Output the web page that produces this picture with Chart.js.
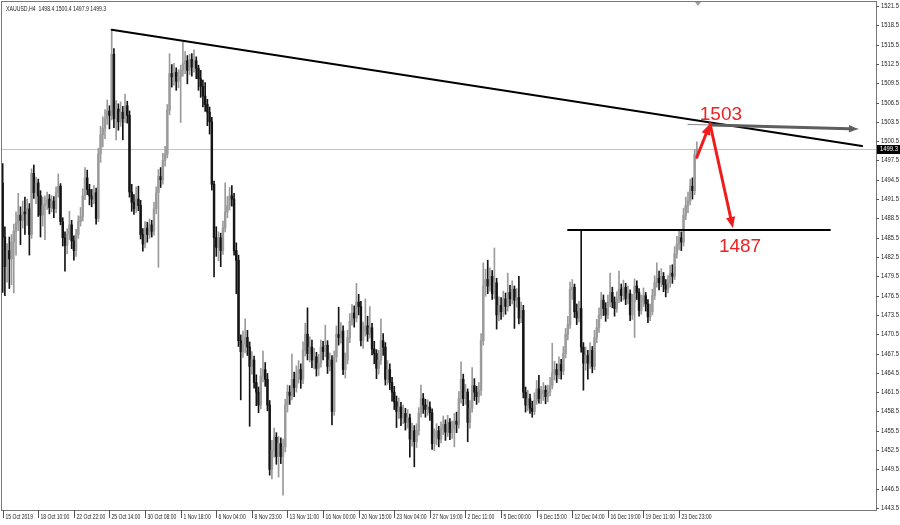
<!DOCTYPE html>
<html>
<head>
<meta charset="utf-8">
<title>XAUUSD H4</title>
<script src="https://cdn.jsdelivr.net/npm/chart.js@4.4.1/dist/chart.umd.min.js"></script>
<style>
  html, body { margin: 0; padding: 0; background: #fff; }
  #wrap { width: 900px; height: 525px; }
</style>
</head>
<body>
<div id="wrap"><canvas id="chart" width="900" height="525"></canvas></div>
<script>
const symbolTitle = 'XAUUSD,H4  1498.4 1500.4 1497.9 1499.3';

// H4 candles, one per bar
const opens = [
  1494.0,1485.6,1481.0,1483.5,1482.2,1484.8,1486.5,1487.8,1489.0,1488.2,
  1489.5,1489.2,1490.0,1486.0,1495.5,1492.5,1494.0,1492.0,1489.0,1490.5,
  1490.8,1491.5,1490.2,1491.2,1490.0,1492.5,1493.5,1488.0,1485.5,1484.3,
  1486.0,1487.5,1485.0,1483.5,1486.0,1488.0,1488.8,1492.0,1494.8,1493.0,
  1492.0,1491.5,1492.5,1488.5,1498.5,1501.5,1502.5,1504.0,1505.2,1504.5,
  1514.0,1504.0,1505.5,1503.5,1505.0,1504.0,1506.0,1504.5,1492.6,1491.0,
  1490.0,1491.5,1490.5,1486.0,1484.5,1487.0,1486.0,1487.5,1486.5,1490.0,
  1492.5,1495.0,1494.5,1497.5,1498.5,1505.3,1511.0,1510.5,1511.2,1509.8,
  1510.5,1511.5,1512.5,1513.0,1511.5,1513.2,1512.0,1513.0,1511.8,1510.2,
  1509.0,1507.5,1506.2,1505.0,1503.5,1493.8,1485.5,1484.0,1485.5,1483.5,
  1487.0,1489.5,1490.5,1492.0,1491.5,1483.5,1482.0,1469.5,1467.8,1469.0,
  1470.0,1468.5,1465.5,1466.5,1463.0,1461.5,1459.5,1464.0,1465.0,1463.5,
  1459.5,1449.5,1452.5,1454.5,1451.5,1453.5,1451.5,1453.0,1459.5,1461.5,
  1461.0,1463.5,1462.2,1464.5,1465.0,1463.5,1468.0,1470.5,1467.5,1468.5,
  1466.5,1467.0,1465.2,1466.0,1468.5,1467.8,1468.8,1465.5,1466.5,1458.5,
  1467.0,1470.5,1470.0,1471.0,1465.0,1466.5,1470.0,1472.5,1473.8,1473.0,
  1475.5,1474.8,1469.5,1471.0,1471.8,1470.5,1471.5,1468.2,1467.5,1465.2,
  1466.5,1469.5,1468.5,1463.5,1465.0,1463.0,1461.5,1460.0,1458.5,1459.2,
  1457.5,1458.2,1456.8,1457.5,1454.2,1455.5,1453.8,1455.5,1458.2,1460.5,
  1459.5,1458.8,1459.2,1458.3,1453.5,1454.5,1455.5,1454.2,1455.8,1456.5,
  1455.3,1456.8,1455.2,1455.8,1457.0,1456.5,1460.5,1463.5,1460.5,1461.5,
  1456.8,1459.0,1462.5,1461.5,1460.8,1461.8,1469.5,1478.0,1479.0,1478.0,
  1479.5,1476.8,1478.5,1473.5,1475.0,1474.0,1476.0,1474.8,1477.0,1476.0,
  1477.5,1475.8,1476.2,1473.0,1474.2,1461.5,1459.5,1460.5,1459.0,1458.5,
  1460.2,1462.0,1460.5,1461.3,1461.8,1460.8,1461.5,1462.5,1464.5,1465.0,
  1464.2,1465.8,1464.8,1467.5,1470.5,1472.0,1477.5,1477.8,1474.0,1473.0,
  1474.5,1468.5,1466.0,1467.2,1466.0,1468.0,1465.5,1470.0,1471.5,1473.5,
  1475.8,1474.5,1473.5,1475.5,1477.0,1475.5,1474.5,1476.0,1477.5,1476.5,
  1477.8,1476.0,1476.8,1473.5,1475.5,1478.0,1477.0,1474.2,1475.5,1476.5,
  1475.2,1473.2,1474.0,1476.5,1478.5,1479.2,1478.5,1479.5,1478.2,1477.5,
  1478.5,1480.0,1479.5,1483.0,1484.5,1485.5,1484.8,1489.0,1490.5,1491.2,
  1493.5,1492.8,1498.4
];
const highs = [
  1497.0,1487.2,1484.6,1485.6,1486.0,1487.6,1489.5,1492.4,1490.3,1491.2,
  1491.8,1491.5,1490.8,1496.2,1496.8,1494.9,1494.6,1492.8,1491.8,1492.0,
  1492.6,1492.2,1492.0,1491.9,1493.4,1495.4,1493.9,1488.6,1486.4,1486.9,
  1489.6,1488.2,1485.8,1486.8,1488.9,1490.2,1493.1,1496.4,1496.0,1493.8,
  1493.0,1493.6,1493.2,1499.4,1502.8,1504.3,1505.4,1506.9,1506.0,1517.8,
  1514.9,1506.8,1506.3,1506.6,1505.9,1507.8,1506.7,1505.2,1493.8,1492.2,
  1493.4,1493.5,1491.3,1486.9,1488.0,1487.9,1488.4,1488.2,1491.0,1493.4,
  1496.1,1496.4,1498.6,1499.7,1506.2,1514.1,1512.4,1512.6,1511.9,1511.6,
  1512.3,1515.9,1514.4,1513.8,1514.0,1514.1,1514.7,1513.6,1512.3,1511.5,
  1510.0,1509.6,1507.0,1505.8,1504.2,1494.3,1487.2,1486.4,1486.2,1488.1,
  1494.0,1491.9,1493.3,1493.6,1492.4,1484.7,1482.8,1470.4,1471.0,1472.9,
  1471.1,1469.3,1467.8,1467.1,1464.2,1462.3,1465.2,1467.9,1466.1,1464.4,
  1460.2,1454.0,1455.9,1455.2,1454.6,1454.4,1454.2,1460.4,1462.6,1462.5,
  1467.4,1464.6,1465.6,1466.4,1465.9,1469.3,1472.2,1474.6,1470.1,1469.6,
  1468.3,1467.7,1467.4,1469.6,1469.4,1471.9,1469.5,1467.6,1467.2,1467.9,
  1471.8,1474.7,1472.3,1471.8,1467.6,1471.1,1473.7,1475.1,1474.9,1478.4,
  1476.7,1475.6,1472.4,1476.0,1473.3,1474.8,1472.2,1469.4,1468.1,1468.0,
  1472.9,1470.6,1469.2,1466.4,1465.9,1463.8,1462.4,1460.9,1460.6,1459.9,
  1459.5,1459.0,1458.8,1458.1,1456.7,1456.3,1456.6,1459.1,1462.6,1461.3,
  1460.4,1460.3,1460.0,1458.9,1455.8,1456.6,1456.2,1456.9,1457.8,1457.2,
  1457.9,1457.4,1457.0,1458.2,1458.4,1461.6,1466.2,1464.3,1462.7,1462.0,
  1460.2,1465.3,1463.6,1462.4,1463.0,1470.6,1481.6,1480.6,1482.0,1480.8,
  1480.4,1483.9,1479.2,1476.3,1476.2,1477.2,1476.9,1480.0,1478.1,1478.8,
  1478.0,1477.6,1479.5,1475.5,1475.0,1462.3,1461.8,1461.2,1460.1,1461.4,
  1463.3,1464.1,1462.4,1463.0,1462.5,1462.6,1463.8,1469.1,1466.3,1465.9,
  1467.0,1466.6,1468.6,1471.4,1473.3,1478.6,1479.0,1478.3,1475.2,1475.6,
  1486.7,1469.2,1468.5,1468.0,1469.2,1468.6,1471.1,1472.8,1474.6,1477.0,
  1476.6,1475.4,1476.6,1480.0,1477.8,1476.3,1477.1,1480.3,1478.3,1478.9,
  1478.4,1478.0,1477.4,1476.7,1479.1,1478.8,1477.6,1476.6,1477.7,1477.0,
  1475.9,1475.2,1477.5,1479.6,1481.6,1480.3,1480.7,1480.1,1479.0,1479.6,
  1481.2,1481.3,1484.1,1485.7,1486.8,1486.4,1490.1,1491.8,1492.6,1494.6,
  1494.8,1499.2,1500.4
];
const lows = [
  1477.0,1476.5,1478.6,1477.6,1478.2,1476.9,1482.8,1486.6,1484.4,1487.0,
  1486.0,1487.4,1482.8,1485.4,1491.6,1490.8,1488.8,1485.6,1487.3,1485.2,
  1489.9,1489.2,1489.5,1488.6,1489.4,1491.8,1487.5,1484.2,1480.3,1483.0,
  1485.2,1483.8,1482.0,1482.6,1485.4,1487.3,1488.1,1491.4,1492.2,1490.6,
  1490.3,1490.8,1487.6,1488.0,1497.2,1499.6,1500.9,1503.1,1502.4,1503.8,
  1502.6,1500.7,1502.2,1502.8,1500.7,1503.4,1503.3,1491.8,1489.6,1489.1,
  1489.4,1489.7,1485.3,1483.4,1483.9,1484.8,1485.4,1485.6,1485.9,1489.2,
  1480.9,1493.3,1493.8,1496.6,1497.9,1504.6,1508.9,1509.2,1508.4,1508.8,
  1503.4,1510.6,1511.0,1509.4,1510.8,1510.6,1511.2,1510.2,1508.4,1507.3,
  1505.8,1505.1,1502.9,1501.6,1492.9,1479.4,1482.6,1481.9,1481.0,1482.9,
  1486.4,1488.6,1489.8,1490.4,1482.8,1476.8,1468.6,1460.3,1466.9,1467.6,
  1467.2,1456.2,1464.3,1462.1,1459.4,1458.3,1458.9,1463.1,1462.4,1458.6,
  1448.6,1448.0,1451.4,1450.3,1448.3,1450.4,1445.5,1452.2,1458.4,1459.6,
  1460.3,1460.8,1461.5,1462.9,1462.1,1462.8,1467.1,1466.5,1466.2,1465.3,
  1465.1,1464.0,1464.1,1465.4,1466.5,1467.0,1464.4,1464.8,1456.4,1457.9,
  1466.2,1468.8,1469.1,1464.2,1463.7,1465.9,1469.2,1471.9,1471.6,1472.4,
  1473.5,1468.7,1468.3,1470.2,1469.4,1469.9,1467.3,1465.9,1463.6,1464.3,
  1465.8,1467.2,1462.6,1462.7,1461.9,1460.1,1458.8,1456.0,1457.4,1456.3,
  1456.6,1455.6,1455.9,1451.4,1453.1,1449.9,1452.9,1454.8,1457.6,1458.2,
  1457.6,1457.9,1457.1,1452.6,1452.4,1453.3,1453.0,1453.6,1454.9,1454.0,
  1454.6,1454.1,1454.3,1453.0,1455.2,1455.9,1459.8,1459.4,1459.6,1453.8,
  1455.9,1458.4,1460.2,1459.6,1459.9,1461.0,1468.8,1476.4,1476.8,1477.2,
  1475.9,1476.0,1471.3,1472.6,1472.8,1473.2,1473.6,1474.1,1474.9,1475.2,
  1471.4,1474.7,1472.1,1472.3,1460.6,1458.4,1458.6,1458.2,1457.6,1458.0,
  1459.6,1459.8,1459.7,1460.2,1459.7,1460.0,1460.9,1462.0,1463.4,1463.0,
  1463.6,1463.5,1464.2,1466.8,1469.6,1471.4,1475.9,1473.1,1472.0,1472.4,
  1467.7,1461.8,1464.9,1463.5,1465.2,1464.5,1465.0,1469.2,1470.8,1472.9,
  1473.4,1472.5,1472.9,1474.8,1474.6,1473.3,1473.9,1475.4,1475.6,1475.8,
  1475.1,1475.2,1472.6,1472.8,1470.0,1475.9,1473.3,1473.6,1474.8,1474.1,
  1472.3,1472.6,1473.5,1475.9,1477.8,1477.4,1477.9,1477.1,1476.3,1476.9,
  1477.8,1478.4,1479.0,1482.3,1483.6,1483.5,1484.2,1488.3,1489.4,1490.6,
  1491.5,1492.2,1497.9
];
const closes = [
  1485.6,1481.0,1483.5,1482.2,1484.8,1486.5,1487.8,1489.0,1488.2,1489.5,
  1489.2,1490.0,1486.0,1495.5,1492.5,1494.0,1492.0,1489.0,1490.5,1490.8,
  1491.5,1490.2,1491.2,1490.0,1492.5,1493.5,1488.0,1485.5,1484.3,1486.0,
  1487.5,1485.0,1483.5,1486.0,1488.0,1488.8,1492.0,1494.8,1493.0,1492.0,
  1491.5,1492.5,1488.5,1498.5,1501.5,1502.5,1504.0,1505.2,1504.5,1514.0,
  1504.0,1505.5,1503.5,1505.0,1504.0,1506.0,1504.5,1492.6,1491.0,1490.0,
  1491.5,1490.5,1486.0,1484.5,1487.0,1486.0,1487.5,1486.5,1490.0,1492.5,
  1495.0,1494.5,1497.5,1498.5,1505.3,1511.0,1510.5,1511.2,1509.8,1510.5,
  1511.5,1512.5,1513.0,1511.5,1513.2,1512.0,1513.0,1511.8,1510.2,1509.0,
  1507.5,1506.2,1505.0,1503.5,1493.8,1485.5,1484.0,1485.5,1483.5,1487.0,
  1489.5,1490.5,1492.0,1491.5,1483.5,1482.0,1469.5,1467.8,1469.0,1470.0,
  1468.5,1465.5,1466.5,1463.0,1461.5,1459.5,1464.0,1465.0,1463.5,1459.5,
  1449.5,1452.5,1454.5,1451.5,1453.5,1451.5,1453.0,1459.5,1461.5,1461.0,
  1463.5,1462.2,1464.5,1465.0,1463.5,1468.0,1470.5,1467.5,1468.5,1466.5,
  1467.0,1465.2,1466.0,1468.5,1467.8,1468.8,1465.5,1466.5,1458.5,1467.0,
  1470.5,1470.0,1471.0,1465.0,1466.5,1470.0,1472.5,1473.8,1473.0,1475.5,
  1474.8,1469.5,1471.0,1471.8,1470.5,1471.5,1468.2,1467.5,1465.2,1466.5,
  1469.5,1468.5,1463.5,1465.0,1463.0,1461.5,1460.0,1458.5,1459.2,1457.5,
  1458.2,1456.8,1457.5,1454.2,1455.5,1453.8,1455.5,1458.2,1460.5,1459.5,
  1458.8,1459.2,1458.3,1453.5,1454.5,1455.5,1454.2,1455.8,1456.5,1455.3,
  1456.8,1455.2,1455.8,1457.0,1456.5,1460.5,1463.5,1460.5,1461.5,1456.8,
  1459.0,1462.5,1461.5,1460.8,1461.8,1469.5,1478.0,1479.0,1478.0,1479.5,
  1476.8,1478.5,1473.5,1475.0,1474.0,1476.0,1474.8,1477.0,1476.0,1477.5,
  1475.8,1476.2,1473.0,1474.2,1461.5,1459.5,1460.5,1459.0,1458.5,1460.2,
  1462.0,1460.5,1461.3,1461.8,1460.8,1461.5,1462.5,1464.5,1465.0,1464.2,
  1465.8,1464.8,1467.5,1470.5,1472.0,1477.5,1477.8,1474.0,1473.0,1474.5,
  1468.5,1466.0,1467.2,1466.0,1468.0,1465.5,1470.0,1471.5,1473.5,1475.8,
  1474.5,1473.5,1475.5,1477.0,1475.5,1474.5,1476.0,1477.5,1476.5,1477.8,
  1476.0,1476.8,1473.5,1475.5,1478.0,1477.0,1474.2,1475.5,1476.5,1475.2,
  1473.2,1474.0,1476.5,1478.5,1479.2,1478.5,1479.5,1478.2,1477.5,1478.5,
  1480.0,1479.5,1483.0,1484.5,1485.5,1484.8,1489.0,1490.5,1491.2,1493.5,
  1492.8,1498.4,1499.3
];

// time axis: bar index of each label and its text
const labelBars = [0, 16, 32, 48, 64, 80, 96, 112, 128, 144, 160, 176, 192, 208, 224, 240, 256, 272, 288, 304];
const dateLabels = [
  '15 Oct 2019', '18 Oct 10:00', '22 Oct 22:00', '25 Oct 14:00', '30 Oct 08:00',
  '1 Nov 18:00', '6 Nov 04:00', '8 Nov 23:00', '13 Nov 11:00', '16 Nov 00:00',
  '20 Nov 15:00', '23 Nov 04:00', '27 Nov 19:00', '2 Dec 11:00', '5 Dec 00:00',
  '9 Dec 15:00', '12 Dec 04:00', '16 Dec 19:00', '19 Dec 11:00', '23 Dec 23:00'
];
const priceTicks = [
  1443.5, 1446.5, 1449.5, 1452.5, 1455.5, 1458.5, 1461.5, 1464.5, 1467.5,
  1470.5, 1473.5, 1476.5, 1479.5, 1482.5, 1485.5, 1488.5, 1491.5, 1494.5,
  1497.5, 1500.5, 1503.5, 1506.5, 1509.5, 1512.5, 1515.5, 1518.5, 1521.5
];

// hand-drawn objects on the chart, in bar index / price
const trendLine = { from: [49, 1517.8], to: [386.2, 1499.75] };
const supportLine = { from: [254.1, 1486.7], to: [371.8, 1486.7] };
const targetArrow = { from: [308.0, 1503.1], to: [384.4, 1502.4] };
const upArrow = { from: [312.0, 1498.0], to: [317.9, 1503.2] };
const downArrow = { from: [317.9, 1503.2], to: [328.2, 1487.0] };
const noteLabels = [
  { text: '1503', at: [322.8, 1503.8] },
  { text: '1487', at: [331.4, 1483.3] }
];

const lastPrice = closes[closes.length - 1];
const bullColor = '#9b9b9b';
const bearColor = '#151515';
const candleColors = closes.map((c, i) => c >= opens[i] ? bullColor : bearColor);

const wickData = highs.map((h, i) => ({ x: i, y: [lows[i], h] }));
const bodyData = closes.map((c, i) => ({ x: i, y: [Math.min(opens[i], c), Math.max(opens[i], c)] }));

const smallFont = '7px "Liberation Sans", Arial, sans-serif';

// terminal text is narrow, so squeeze it sideways
function narrowText(ctx, text, x, y, squeeze) {
    ctx.save();
    ctx.translate(x, y);
    ctx.scale(squeeze, 1);
    ctx.fillText(text, 0, 0);
    ctx.restore();
}

function drawArrow(ctx, x1, y1, x2, y2, color, width, head) {
    const ang = Math.atan2(y2 - y1, x2 - x1);
    const bx = x2 - head * Math.cos(ang);
    const by = y2 - head * Math.sin(ang);
    const hw = head * 0.42;
    ctx.strokeStyle = color;
    ctx.fillStyle = color;
    ctx.lineWidth = width;
    ctx.beginPath();
    ctx.moveTo(x1, y1);
    ctx.lineTo(bx, by);
    ctx.stroke();
    ctx.beginPath();
    ctx.moveTo(x2, y2);
    ctx.lineTo(bx + hw * Math.sin(ang), by - hw * Math.cos(ang));
    ctx.lineTo(bx - hw * Math.sin(ang), by + hw * Math.cos(ang));
    ctx.closePath();
    ctx.fill();
}

const overlay = {
    id: 'overlay',
    beforeDatasetsDraw(chart) {
        const { ctx, chartArea: a, scales: { y } } = chart;
        const py = Math.round(y.getPixelForValue(lastPrice)) + 0.5;
        ctx.save();
        ctx.strokeStyle = '#c6c6c6';
        ctx.lineWidth = 1;
        ctx.beginPath();
        ctx.moveTo(a.left, py);
        ctx.lineTo(a.right, py);
        ctx.stroke();
        ctx.restore();
    },
    afterDatasetsDraw(chart) {
        const { ctx, scales: { x, y } } = chart;
        const px = p => [x.getPixelForValue(p[0]), y.getPixelForValue(p[1])];
        ctx.save();
        ctx.lineCap = 'round';

        // trend line and support line
        ctx.strokeStyle = '#000';
        ctx.lineWidth = 2;
        [trendLine, supportLine].forEach(l => {
            const [x1, y1] = px(l.from);
            const [x2, y2] = px(l.to);
            ctx.beginPath();
            ctx.moveTo(x1, y1);
            ctx.lineTo(x2, y2);
            ctx.stroke();
        });

        // grey target arrow
        const [gx1, gy1] = px(targetArrow.from);
        const [gx2, gy2] = px(targetArrow.to);
        ctx.strokeStyle = '#8a8a8a';
        ctx.lineWidth = 1;
        ctx.beginPath();
        ctx.moveTo(gx1, gy1);
        ctx.lineTo(gx2, gy2);
        ctx.stroke();
        const t = 0.14;
        drawArrow(ctx, gx1 + (gx2 - gx1) * t, gy1 + (gy2 - gy1) * t, gx2, gy2, '#5e5e5e', 3, 9);

        // red path arrows
        [upArrow, downArrow].forEach(a => {
            const [x1, y1] = px(a.from);
            const [x2, y2] = px(a.to);
            drawArrow(ctx, x1, y1, x2, y2, '#f01c1c', 3, 11);
        });

        ctx.fillStyle = '#ee2222';
        ctx.font = '19px "Liberation Sans", Arial, sans-serif';
        ctx.textAlign = 'center';
        ctx.textBaseline = 'alphabetic';
        noteLabels.forEach(n => {
            const [tx, ty] = px(n.at);
            ctx.fillText(n.text, tx, ty);
        });
        ctx.restore();
    },
    afterDraw(chart) {
        const { ctx, chartArea: a, scales: { x, y } } = chart;
        ctx.save();
        // frame
        ctx.strokeStyle = '#787878';
        ctx.lineWidth = 1;
        ctx.strokeRect(a.left - 0.5, a.top - 0.5, a.right - a.left + 1, a.bottom - a.top + 1);

        // time labels with their tick marks
        ctx.font = smallFont;
        ctx.fillStyle = '#1e1e1e';
        ctx.strokeStyle = '#555';
        ctx.textAlign = 'left';
        ctx.textBaseline = 'alphabetic';
        labelBars.forEach((b, k) => {
            const tx = Math.round(x.getPixelForValue(b)) + 0.5;
            ctx.beginPath();
            ctx.moveTo(tx, a.bottom);
            ctx.lineTo(tx, a.bottom + 8);
            ctx.stroke();
            narrowText(ctx, dateLabels[k], tx + 2, a.bottom + 9, 0.72);
        });

        // price labels with their tick marks
        ctx.textBaseline = 'middle';
        priceTicks.forEach(v => {
            const ty = Math.round(y.getPixelForValue(v)) + 0.5;
            ctx.beginPath();
            ctx.moveTo(a.right, ty);
            ctx.lineTo(a.right + 3, ty);
            ctx.stroke();
            narrowText(ctx, v.toFixed(1), a.right + 5, ty, 0.84);
        });

        // shift marker
        const sx = x.getPixelForValue(312.5);
        ctx.fillStyle = '#a0a0a0';
        ctx.beginPath();
        ctx.moveTo(sx - 3, a.top);
        ctx.lineTo(sx + 3, a.top);
        ctx.lineTo(sx, a.top + 4);
        ctx.closePath();
        ctx.fill();

        // last price box
        const py = Math.round(y.getPixelForValue(lastPrice));
        ctx.fillStyle = '#000';
        ctx.fillRect(a.right + 1, py - 4, chart.width - a.right - 1, 9);
        ctx.fillStyle = '#fff';
        narrowText(ctx, lastPrice.toFixed(1), a.right + 4, py + 0.5, 0.84);

        // symbol line
        ctx.fillStyle = '#1e1e1e';
        ctx.textBaseline = 'alphabetic';
        narrowText(ctx, symbolTitle, a.left + 4, a.top + 9, 0.74);
        ctx.restore();
    }
};

const ctx = document.getElementById('chart').getContext('2d');
const priceChart = new Chart(ctx, {
    type: 'bar',
    data: {
        datasets: [
            {
                label: 'body',
                data: bodyData,
                backgroundColor: candleColors,
                barThickness: 1.8,
                minBarLength: 1,
                grouped: false,
                order: 0
            },
            {
                label: 'wick',
                data: wickData,
                backgroundColor: candleColors,
                barThickness: 1,
                grouped: false,
                order: 1
            }
        ]
    },
    options: {
        responsive: false,
        devicePixelRatio: 1,
        animation: false,
        events: [],
        layout: { padding: { left: 2, top: 2, right: 0, bottom: 0 } },
        plugins: {
            legend: { display: false },
            tooltip: { enabled: false },
            title: { display: false }
        },
        scales: {
            x: {
                type: 'linear',
                offset: false,
                min: -0.3,
                max: 392.5,
                afterBuildTicks: scale => {
                    scale.ticks = labelBars.map(v => ({ value: v }));
                },
                afterFit: scale => { scale.height = 15; },
                grid: { display: false },
                border: { display: false },
                ticks: { display: false }
            },
            y: {
                type: 'linear',
                position: 'right',
                min: 1443.19,
                max: 1522.12,
                afterBuildTicks: scale => {
                    scale.ticks = priceTicks.map(v => ({ value: v }));
                },
                afterFit: scale => { scale.width = 24; },
                grid: { display: false },
                border: { display: false },
                ticks: { display: false }
            }
        }
    },
    plugins: [overlay]
});
</script>
</body>
</html>
